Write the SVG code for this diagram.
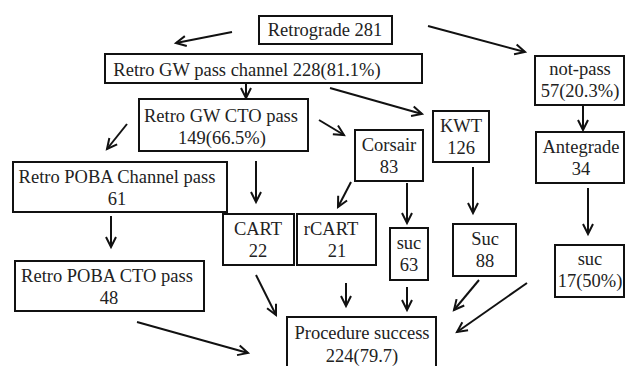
<svg xmlns="http://www.w3.org/2000/svg" width="626" height="366" viewBox="0 0 626 366" font-family="Liberation Serif, DejaVu Serif, serif">
<style>
rect{fill:#fff;stroke:#111;stroke-width:2}
text{font-size:18.5px;fill:#222;text-anchor:middle}
.c line{stroke:#111;stroke-width:2;marker-end:url(#ah)}
</style>
<defs>
<marker id="ah" markerUnits="userSpaceOnUse" markerWidth="14" markerHeight="14" refX="11" refY="6" orient="auto" viewBox="0 0 14 12">
<path d="M1,1 L11,6 L1,11" fill="none" stroke="#111" stroke-width="2"/>
</marker>
</defs>
<rect x="0" y="0" width="626" height="366" style="stroke:none"/>
<g class="c" id="connectors">
<line x1="232" y1="32" x2="176" y2="43"/>
<line x1="428" y1="26" x2="525" y2="52"/>
<line x1="246" y1="83" x2="246" y2="98"/>
<line x1="330" y1="88" x2="422" y2="114"/>
<line x1="319" y1="120" x2="344" y2="135"/>
<line x1="127" y1="124" x2="107" y2="149"/>
<line x1="256" y1="161" x2="256" y2="202"/>
<line x1="351" y1="182" x2="338" y2="207"/>
<line x1="407" y1="183" x2="407" y2="223"/>
<line x1="473" y1="167" x2="473" y2="213"/>
<line x1="583" y1="105" x2="583" y2="130"/>
<line x1="588" y1="188" x2="588" y2="234"/>
<line x1="111" y1="216" x2="111" y2="247"/>
<line x1="137" y1="322" x2="248" y2="353"/>
<line x1="256" y1="275" x2="276" y2="315"/>
<line x1="346" y1="283" x2="346" y2="306"/>
<line x1="407" y1="287" x2="407" y2="310"/>
<line x1="479" y1="280" x2="454" y2="310"/>
<line x1="527" y1="283" x2="457" y2="332"/>
</g>
<g id="retrograde"><rect x="259" y="16" width="133" height="28"/><text x="325" y="36">Retrograde  281</text></g>
<g id="gw-pass-channel"><rect x="105" y="54" width="317" height="29"/><text x="247" y="75.5">Retro GW pass channel  228(81.1%)</text></g>
<g id="gw-cto-pass"><rect x="139" y="99" width="169" height="52"/><text x="221" y="122">Retro GW CTO pass</text><text x="222" y="144">149(66.5%)</text></g>
<g id="poba-channel"><rect x="13" y="162" width="214" height="50"/><text x="117" y="183">Retro POBA Channel pass</text><text x="117" y="205">61</text></g>
<g id="poba-cto"><rect x="15" y="261" width="189" height="50"/><text x="107" y="282">Retro POBA CTO pass</text><text x="109" y="304">48</text></g>
<g id="cart"><rect x="223" y="214" width="71" height="51"/><text x="258" y="235">CART</text><text x="258" y="257">22</text></g>
<g id="rcart"><rect x="297" y="214" width="79" height="51"/><text x="331" y="235">rCART</text><text x="337" y="257">21</text></g>
<g id="corsair"><rect x="355" y="130" width="68" height="51"/><text x="389" y="151">Corsair</text><text x="389" y="173">83</text></g>
<g id="kwt"><rect x="433" y="111" width="56" height="51"/><text x="461" y="132">KWT</text><text x="461" y="154">126</text></g>
<g id="suc63"><rect x="390" y="228" width="38" height="52"/><text x="409" y="249">suc</text><text x="409" y="271">63</text></g>
<g id="suc88"><rect x="453" y="224" width="63" height="52"/><text x="485" y="245">Suc</text><text x="485" y="267">88</text></g>
<g id="not-pass"><rect x="535" y="56" width="89" height="49"/><text x="580" y="75">not-pass</text><text x="580" y="97">57(20.3%)</text></g>
<g id="antegrade"><rect x="536" y="132" width="88" height="51"/><text x="581" y="153">Antegrade</text><text x="581" y="175">34</text></g>
<g id="suc17"><rect x="555" y="245" width="69" height="52"/><text x="590" y="265">suc</text><text x="590" y="287">17(50%)</text></g>
<g id="procedure-success"><rect x="287" y="317" width="149" height="60"/><text x="362" y="339">Procedure success</text><text x="362" y="362">224(79.7)</text></g>
</svg>
